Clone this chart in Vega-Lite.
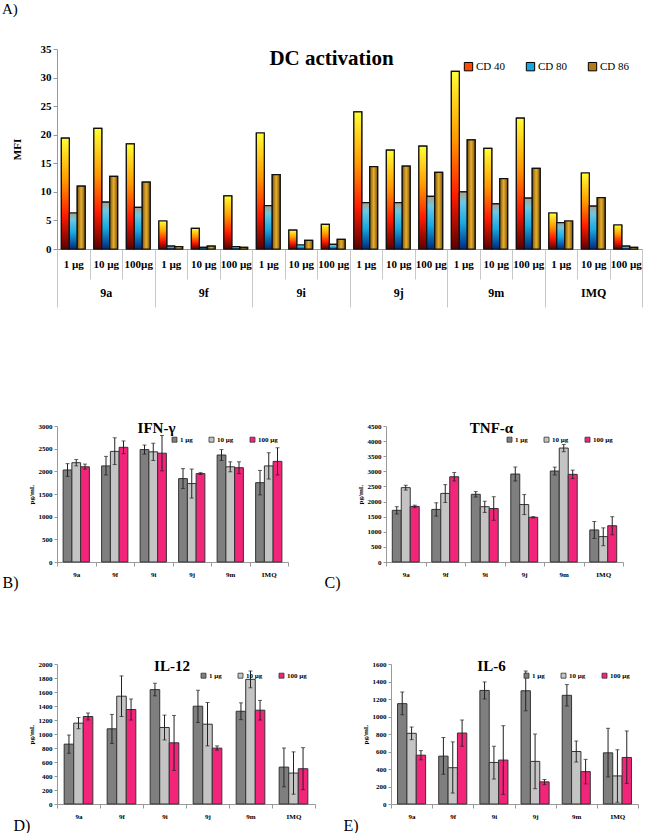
{
  "$schema": "https://vega.github.io/schema/vega-lite/v6.json",
  "padding": {"left": 2, "top": 2, "right": 2, "bottom": 0},
  "title": {"text": "A)", "anchor": "start", "fontSize": 15, "fontWeight": "normal", "offset": 26},
  "datasets": {
    "dc": [
      {"g":"9a","cat":"9a|1 µg","s":"CD 40","v":19.4},{"g":"9a","cat":"9a|1 µg","s":"CD 80","v":6.3},{"g":"9a","cat":"9a|1 µg","s":"CD 86","v":11.0},
      {"g":"9a","cat":"9a|10 µg","s":"CD 40","v":21.1},{"g":"9a","cat":"9a|10 µg","s":"CD 80","v":8.2},{"g":"9a","cat":"9a|10 µg","s":"CD 86","v":12.7},
      {"g":"9a","cat":"9a|100µg","s":"CD 40","v":18.4},{"g":"9a","cat":"9a|100µg","s":"CD 80","v":7.3},{"g":"9a","cat":"9a|100µg","s":"CD 86","v":11.7},
      {"g":"9f","cat":"9f|1 µg","s":"CD 40","v":4.9},{"g":"9f","cat":"9f|1 µg","s":"CD 80","v":0.5},{"g":"9f","cat":"9f|1 µg","s":"CD 86","v":0.4},
      {"g":"9f","cat":"9f|10 µg","s":"CD 40","v":3.6},{"g":"9f","cat":"9f|10 µg","s":"CD 80","v":0.3},{"g":"9f","cat":"9f|10 µg","s":"CD 86","v":0.5},
      {"g":"9f","cat":"9f|100 µg","s":"CD 40","v":9.3},{"g":"9f","cat":"9f|100 µg","s":"CD 80","v":0.4},{"g":"9f","cat":"9f|100 µg","s":"CD 86","v":0.3},
      {"g":"9i","cat":"9i|1 µg","s":"CD 40","v":20.3},{"g":"9i","cat":"9i|1 µg","s":"CD 80","v":7.6},{"g":"9i","cat":"9i|1 µg","s":"CD 86","v":13.0},
      {"g":"9i","cat":"9i|10 µg","s":"CD 40","v":3.3},{"g":"9i","cat":"9i|10 µg","s":"CD 80","v":0.7},{"g":"9i","cat":"9i|10 µg","s":"CD 86","v":1.5},
      {"g":"9i","cat":"9i|100 µg","s":"CD 40","v":4.3},{"g":"9i","cat":"9i|100 µg","s":"CD 80","v":0.8},{"g":"9i","cat":"9i|100 µg","s":"CD 86","v":1.7},
      {"g":"9j","cat":"9j|1 µg","s":"CD 40","v":24.0},{"g":"9j","cat":"9j|1 µg","s":"CD 80","v":8.1},{"g":"9j","cat":"9j|1 µg","s":"CD 86","v":14.4},
      {"g":"9j","cat":"9j|10 µg","s":"CD 40","v":17.3},{"g":"9j","cat":"9j|10 µg","s":"CD 80","v":8.1},{"g":"9j","cat":"9j|10 µg","s":"CD 86","v":14.5},
      {"g":"9j","cat":"9j|100 µg","s":"CD 40","v":18.0},{"g":"9j","cat":"9j|100 µg","s":"CD 80","v":9.2},{"g":"9j","cat":"9j|100 µg","s":"CD 86","v":13.4},
      {"g":"9m","cat":"9m|1 µg","s":"CD 40","v":31.1},{"g":"9m","cat":"9m|1 µg","s":"CD 80","v":10.0},{"g":"9m","cat":"9m|1 µg","s":"CD 86","v":19.1},
      {"g":"9m","cat":"9m|10 µg","s":"CD 40","v":17.6},{"g":"9m","cat":"9m|10 µg","s":"CD 80","v":7.9},{"g":"9m","cat":"9m|10 µg","s":"CD 86","v":12.3},
      {"g":"9m","cat":"9m|100 µg","s":"CD 40","v":22.9},{"g":"9m","cat":"9m|100 µg","s":"CD 80","v":8.9},{"g":"9m","cat":"9m|100 µg","s":"CD 86","v":14.1},
      {"g":"IMQ","cat":"IMQ|1 µg","s":"CD 40","v":6.3},{"g":"IMQ","cat":"IMQ|1 µg","s":"CD 80","v":4.6},{"g":"IMQ","cat":"IMQ|1 µg","s":"CD 86","v":4.9},
      {"g":"IMQ","cat":"IMQ|10 µg","s":"CD 40","v":13.3},{"g":"IMQ","cat":"IMQ|10 µg","s":"CD 80","v":7.5},{"g":"IMQ","cat":"IMQ|10 µg","s":"CD 86","v":9.0},
      {"g":"IMQ","cat":"IMQ|100 µg","s":"CD 40","v":4.2},{"g":"IMQ","cat":"IMQ|100 µg","s":"CD 80","v":0.5},{"g":"IMQ","cat":"IMQ|100 µg","s":"CD 86","v":0.3}
    ],
    "ifn": [
      {"c":"9a","d":"1 µg","m":2030,"lo":1890,"hi":2170},{"c":"9a","d":"10 µg","m":2190,"lo":2120,"hi":2260},{"c":"9a","d":"100 µg","m":2100,"lo":2050,"hi":2160},
      {"c":"9f","d":"1 µg","m":2120,"lo":1920,"hi":2330},{"c":"9f","d":"10 µg","m":2440,"lo":2150,"hi":2740},{"c":"9f","d":"100 µg","m":2530,"lo":2390,"hi":2670},
      {"c":"9i","d":"1 µg","m":2480,"lo":2380,"hi":2580},{"c":"9i","d":"10 µg","m":2430,"lo":2240,"hi":2620},{"c":"9i","d":"100 µg","m":2400,"lo":2010,"hi":2790},
      {"c":"9j","d":"1 µg","m":1840,"lo":1620,"hi":2060},{"c":"9j","d":"10 µg","m":1730,"lo":1410,"hi":2050},{"c":"9j","d":"100 µg","m":1950,"lo":1930,"hi":1970},
      {"c":"9m","d":"1 µg","m":2360,"lo":2240,"hi":2480},{"c":"9m","d":"10 µg","m":2100,"lo":1990,"hi":2210},{"c":"9m","d":"100 µg","m":2080,"lo":1950,"hi":2210},
      {"c":"IMQ","d":"1 µg","m":1750,"lo":1480,"hi":2020},{"c":"IMQ","d":"10 µg","m":2120,"lo":1830,"hi":2410},{"c":"IMQ","d":"100 µg","m":2220,"lo":1920,"hi":2520}
    ],
    "tnf": [
      {"c":"9a","d":"1 µg","m":1710,"lo":1590,"hi":1830},{"c":"9a","d":"10 µg","m":2460,"lo":2380,"hi":2540},{"c":"9a","d":"100 µg","m":1840,"lo":1800,"hi":1880},
      {"c":"9f","d":"1 µg","m":1740,"lo":1520,"hi":1960},{"c":"9f","d":"10 µg","m":2270,"lo":1970,"hi":2560},{"c":"9f","d":"100 µg","m":2820,"lo":2680,"hi":2960},
      {"c":"9i","d":"1 µg","m":2240,"lo":2150,"hi":2330},{"c":"9i","d":"10 µg","m":1830,"lo":1640,"hi":2010},{"c":"9i","d":"100 µg","m":1770,"lo":1380,"hi":2160},
      {"c":"9j","d":"1 µg","m":2910,"lo":2680,"hi":3140},{"c":"9j","d":"10 µg","m":1900,"lo":1570,"hi":2230},{"c":"9j","d":"100 µg","m":1480,"lo":1460,"hi":1500},
      {"c":"9m","d":"1 µg","m":3010,"lo":2880,"hi":3140},{"c":"9m","d":"10 µg","m":3770,"lo":3650,"hi":3890},{"c":"9m","d":"100 µg","m":2900,"lo":2760,"hi":3040},
      {"c":"IMQ","d":"1 µg","m":1060,"lo":780,"hi":1340},{"c":"IMQ","d":"10 µg","m":840,"lo":540,"hi":1130},{"c":"IMQ","d":"100 µg","m":1200,"lo":900,"hi":1500}
    ],
    "il12": [
      {"c":"9a","d":"1 µg","m":855,"lo":725,"hi":985},{"c":"9a","d":"10 µg","m":1155,"lo":1075,"hi":1235},{"c":"9a","d":"100 µg","m":1250,"lo":1200,"hi":1300},
      {"c":"9f","d":"1 µg","m":1074,"lo":865,"hi":1280},{"c":"9f","d":"10 µg","m":1540,"lo":1250,"hi":1830},{"c":"9f","d":"100 µg","m":1350,"lo":1200,"hi":1500},
      {"c":"9i","d":"1 µg","m":1634,"lo":1545,"hi":1725},{"c":"9i","d":"10 µg","m":1093,"lo":915,"hi":1270},{"c":"9i","d":"100 µg","m":874,"lo":480,"hi":1265},
      {"c":"9j","d":"1 µg","m":1397,"lo":1165,"hi":1625},{"c":"9j","d":"10 µg","m":1140,"lo":830,"hi":1450},{"c":"9j","d":"100 µg","m":798,"lo":770,"hi":830},
      {"c":"9m","d":"1 µg","m":1325,"lo":1205,"hi":1445},{"c":"9m","d":"10 µg","m":1781,"lo":1660,"hi":1900},{"c":"9m","d":"100 µg","m":1340,"lo":1200,"hi":1480},
      {"c":"IMQ","d":"1 µg","m":527,"lo":245,"hi":800},{"c":"IMQ","d":"10 µg","m":442,"lo":140,"hi":745},{"c":"IMQ","d":"100 µg","m":504,"lo":205,"hi":805}
    ],
    "il6": [
      {"c":"9a","d":"1 µg","m":1147,"lo":1020,"hi":1280},{"c":"9a","d":"10 µg","m":808,"lo":735,"hi":880},{"c":"9a","d":"100 µg","m":558,"lo":505,"hi":610},
      {"c":"9f","d":"1 µg","m":547,"lo":340,"hi":760},{"c":"9f","d":"10 µg","m":415,"lo":125,"hi":710},{"c":"9f","d":"100 µg","m":811,"lo":660,"hi":960},
      {"c":"9i","d":"1 µg","m":1298,"lo":1200,"hi":1395},{"c":"9i","d":"10 µg","m":475,"lo":285,"hi":660},{"c":"9i","d":"100 µg","m":502,"lo":110,"hi":895},
      {"c":"9j","d":"1 µg","m":1294,"lo":1065,"hi":1520},{"c":"9j","d":"10 µg","m":487,"lo":175,"hi":800},{"c":"9j","d":"100 µg","m":253,"lo":220,"hi":280},
      {"c":"9m","d":"1 µg","m":1242,"lo":1120,"hi":1365},{"c":"9m","d":"10 µg","m":600,"lo":480,"hi":720},{"c":"9m","d":"100 µg","m":370,"lo":230,"hi":510},
      {"c":"IMQ","d":"1 µg","m":585,"lo":310,"hi":865},{"c":"IMQ","d":"10 µg","m":321,"lo":20,"hi":620},{"c":"IMQ","d":"100 µg","m":532,"lo":235,"hi":835}
    ]
  },
  "spacing": 113,
  "vconcat": [
    {
      "width": 585, "height": 200,
      "title": {"text": "DC activation", "fontSize": 21, "fontWeight": "bold", "offset": -26, "dx": -18},
      "data": {"name": "dc"},
      "layer": [
        {
          "encoding": {
            "x": {"field": "cat", "type": "nominal", "sort": null, "scale": {"paddingInner": 0, "paddingOuter": 0},
              "axis": {"orient": "bottom", "title": null, "labelExpr": "split(datum.value,'|')[1]", "labelAngle": 0, "tickBand": "extent", "tickSize": 30, "tickColor": "#c8c8c8", "labelPadding": -21, "labelFontSize": 11, "labelFontWeight": "bold", "domainColor": "#999"}},
            "xOffset": {"field": "s", "type": "nominal", "sort": null, "scale": {"domain": ["CD 40", "CD 80", "CD 86"], "paddingInner": 0, "paddingOuter": 0.55}},
            "y": {"field": "v", "type": "quantitative", "scale": {"domain": [0, 35], "nice": false},
              "axis": {"title": "MFI", "values": [0,5,10,15,20,25,30,35], "labelFontSize": 11, "labelFontWeight": "bold", "titleFontSize": 11, "titleFontWeight": "bold", "tickSize": 4, "domainColor": "#999", "tickColor": "#999", "titlePadding": 18}}
          },
          "layer": [
            {
              "mark": {"type": "bar", "stroke": "#111", "strokeWidth": 1.2},
              "encoding": {
                "color": {"field": "s", "type": "nominal", "sort": null,
                  "scale": {"domain": ["CD 40", "CD 80", "CD 86"], "range": ["#ff4a00", "#1aa4e0", "#b47c18"]},
                  "legend": {"orient": "top-right", "direction": "horizontal", "title": null, "offset": 12, "symbolType": "square", "symbolSize": 70, "symbolStrokeColor": "#000", "symbolStrokeWidth": 1, "symbolOpacity": 1, "labelFontSize": 11, "columnPadding": 18, "labelOffset": 2}}
              }
            },
            {
              "transform": [{"filter": "datum.s === 'CD 40'"}],
              "mark": {"type": "bar", "stroke": "#111", "strokeWidth": 1.2, "color": {"gradient": "linear", "x1": 0, "y1": 1, "x2": 0, "y2": 0, "stops": [{"offset": 0, "color": "#5a0000"}, {"offset": 0.3, "color": "#ff1a00"}, {"offset": 0.62, "color": "#ff9900"}, {"offset": 1, "color": "#ffff33"}]}}
            },
            {
              "transform": [{"filter": "datum.s === 'CD 80'"}],
              "mark": {"type": "bar", "stroke": "#111", "strokeWidth": 1.2, "color": {"gradient": "linear", "x1": 0, "y1": 1, "x2": 0, "y2": 0, "stops": [{"offset": 0, "color": "#002a80"}, {"offset": 0.45, "color": "#19a8e0"}, {"offset": 0.82, "color": "#6cc8e4"}, {"offset": 1, "color": "#b0a088"}]}}
            },
            {
              "transform": [{"filter": "datum.s === 'CD 86'"}],
              "mark": {"type": "bar", "stroke": "#111", "strokeWidth": 1.2, "color": {"gradient": "linear", "x1": 0, "y1": 0, "x2": 1, "y2": 0, "stops": [{"offset": 0, "color": "#7a5208"}, {"offset": 0.5, "color": "#e8b030"}, {"offset": 1, "color": "#7a5208"}]}}
            }
          ]
        },
        {
          "mark": {"type": "tick", "opacity": 0},
          "encoding": {
            "x": {"field": "g", "type": "nominal", "sort": null, "scale": {"paddingInner": 0, "paddingOuter": 0},
              "axis": {"orient": "bottom", "title": null, "labelAngle": 0, "tickBand": "extent", "tickSize": 58, "tickColor": "#c8c8c8", "labelPadding": -20, "labelFontSize": 12, "labelFontWeight": "bold", "domain": false}}
          }
        }
      ],
      "resolve": {"scale": {"x": "independent"}, "axis": {"x": "independent"}}
    },
    {
      "spacing": 69,
      "vconcat": [
        {
          "spacing": 35,
          "hconcat": [
            {
              "width": 231, "height": 136,
              "title": {"text": "IFN-γ", "fontSize": 15, "fontWeight": "bold", "offset": -14, "dx": -16},
              "data": {"name": "ifn"},
              "encoding": {
                "x": {"field": "c", "type": "nominal", "sort": null, "scale": {"domain": ["9a","9f","9i","9j","9m","IMQ"], "paddingInner": 0, "paddingOuter": 0},
                  "axis": {"title": "B)", "labelAngle": 0, "labelFontSize": 7, "labelFontWeight": "bold", "tickBand": "extent", "tickSize": 4, "labelPadding": 4, "domainColor": "#999", "tickColor": "#999", "titleX": -55, "titleY": 20, "titleAlign": "left", "titleBaseline": "middle", "titleFontSize": 16, "titleFontWeight": "normal"}},
                "xOffset": {"field": "d", "type": "nominal", "sort": null, "scale": {"domain": ["1 µg", "10 µg", "100 µg"], "paddingInner": 0, "paddingOuter": 0.7}}
              },
              "layer": [
                {"mark": {"type": "bar", "stroke": "#333", "strokeWidth": 1},
                  "encoding": {
                    "y": {"field": "m", "type": "quantitative", "scale": {"domain": [0, 3000], "nice": false},
                      "axis": {"title": "pg/mL", "values": [0,500,1000,1500,2000,2500,3000], "format": "d", "labelFontSize": 7, "labelFontWeight": "bold", "titleFontSize": 7, "titleFontWeight": "bold", "tickSize": 3, "labelPadding": 2, "titlePadding": 4, "domainColor": "#999", "tickColor": "#999"}},
                    "color": {"field": "d", "type": "nominal", "sort": null, "scale": {"domain": ["1 µg", "10 µg", "100 µg"], "range": ["#7f7f7f", "#c4c4c4", "#f2257a"]},
                      "legend": {"orient": "top-right", "direction": "horizontal", "title": null, "offset": 10, "symbolType": "square", "symbolSize": 25, "symbolStrokeColor": "#333", "symbolStrokeWidth": 0.8, "labelFontSize": 7, "labelFontWeight": "bold", "columnPadding": 14, "labelOffset": 2}}
                  }},
                {"mark": {"type": "rule", "color": "#222"}, "encoding": {"y": {"field": "lo", "type": "quantitative", "axis": {"title": "pg/mL", "values": [0,500,1000,1500,2000,2500,3000], "format": "d", "labelFontSize": 7, "labelFontWeight": "bold", "titleFontSize": 7, "titleFontWeight": "bold", "tickSize": 3, "labelPadding": 2, "titlePadding": 4, "domainColor": "#999", "tickColor": "#999"}}, "y2": {"field": "hi"}}},
                {"mark": {"type": "tick", "color": "#222", "size": 4, "thickness": 1}, "encoding": {"y": {"field": "lo", "type": "quantitative", "axis": {"title": "pg/mL", "values": [0,500,1000,1500,2000,2500,3000], "format": "d", "labelFontSize": 7, "labelFontWeight": "bold", "titleFontSize": 7, "titleFontWeight": "bold", "tickSize": 3, "labelPadding": 2, "titlePadding": 4, "domainColor": "#999", "tickColor": "#999"}}}},
                {"mark": {"type": "tick", "color": "#222", "size": 4, "thickness": 1}, "encoding": {"y": {"field": "hi", "type": "quantitative", "axis": {"title": "pg/mL", "values": [0,500,1000,1500,2000,2500,3000], "format": "d", "labelFontSize": 7, "labelFontWeight": "bold", "titleFontSize": 7, "titleFontWeight": "bold", "tickSize": 3, "labelPadding": 2, "titlePadding": 4, "domainColor": "#999", "tickColor": "#999"}}}}
              ]
            },
            {
              "width": 237, "height": 136,
              "title": {"text": "TNF-α", "fontSize": 15, "fontWeight": "bold", "offset": -14, "dx": -13},
              "data": {"name": "tnf"},
              "encoding": {
                "x": {"field": "c", "type": "nominal", "sort": null, "scale": {"domain": ["9a","9f","9i","9j","9m","IMQ"], "paddingInner": 0, "paddingOuter": 0},
                  "axis": {"title": "C)", "labelAngle": 0, "labelFontSize": 7, "labelFontWeight": "bold", "tickBand": "extent", "tickSize": 4, "labelPadding": 4, "domainColor": "#999", "tickColor": "#999", "titleX": -62, "titleY": 20, "titleAlign": "left", "titleBaseline": "middle", "titleFontSize": 16, "titleFontWeight": "normal"}},
                "xOffset": {"field": "d", "type": "nominal", "sort": null, "scale": {"domain": ["1 µg", "10 µg", "100 µg"], "paddingInner": 0, "paddingOuter": 0.7}}
              },
              "layer": [
                {"mark": {"type": "bar", "stroke": "#333", "strokeWidth": 1},
                  "encoding": {
                    "y": {"field": "m", "type": "quantitative", "scale": {"domain": [0, 4500], "nice": false},
                      "axis": {"title": "pg/mL", "values": [0,500,1000,1500,2000,2500,3000,3500,4000,4500], "format": "d", "labelFontSize": 7, "labelFontWeight": "bold", "titleFontSize": 7, "titleFontWeight": "bold", "tickSize": 3, "labelPadding": 2, "titlePadding": 4, "domainColor": "#999", "tickColor": "#999"}},
                    "color": {"field": "d", "type": "nominal", "sort": null, "scale": {"domain": ["1 µg", "10 µg", "100 µg"], "range": ["#7f7f7f", "#c4c4c4", "#f2257a"]},
                      "legend": {"orient": "top-right", "direction": "horizontal", "title": null, "offset": 10, "symbolType": "square", "symbolSize": 25, "symbolStrokeColor": "#333", "symbolStrokeWidth": 0.8, "labelFontSize": 7, "labelFontWeight": "bold", "columnPadding": 14, "labelOffset": 2}}
                  }},
                {"mark": {"type": "rule", "color": "#222"}, "encoding": {"y": {"field": "lo", "type": "quantitative", "axis": {"title": "pg/mL", "values": [0,500,1000,1500,2000,2500,3000,3500,4000,4500], "format": "d", "labelFontSize": 7, "labelFontWeight": "bold", "titleFontSize": 7, "titleFontWeight": "bold", "tickSize": 3, "labelPadding": 2, "titlePadding": 4, "domainColor": "#999", "tickColor": "#999"}}, "y2": {"field": "hi"}}},
                {"mark": {"type": "tick", "color": "#222", "size": 4, "thickness": 1}, "encoding": {"y": {"field": "lo", "type": "quantitative", "axis": {"title": "pg/mL", "values": [0,500,1000,1500,2000,2500,3000,3500,4000,4500], "format": "d", "labelFontSize": 7, "labelFontWeight": "bold", "titleFontSize": 7, "titleFontWeight": "bold", "tickSize": 3, "labelPadding": 2, "titlePadding": 4, "domainColor": "#999", "tickColor": "#999"}}}},
                {"mark": {"type": "tick", "color": "#222", "size": 4, "thickness": 1}, "encoding": {"y": {"field": "hi", "type": "quantitative", "axis": {"title": "pg/mL", "values": [0,500,1000,1500,2000,2500,3000,3500,4000,4500], "format": "d", "labelFontSize": 7, "labelFontWeight": "bold", "titleFontSize": 7, "titleFontWeight": "bold", "tickSize": 3, "labelPadding": 2, "titlePadding": 4, "domainColor": "#999", "tickColor": "#999"}}}}
              ]
            }
          ],
          "resolve": {"scale": {"x": "independent", "xOffset": "independent", "y": "independent", "color": "independent"}}
        },
        {
          "spacing": 27,
          "hconcat": [
            {
              "width": 258, "height": 140,
              "title": {"text": "IL-12", "fontSize": 15, "fontWeight": "bold", "offset": -14, "dx": -14},
              "data": {"name": "il12"},
              "encoding": {
                "x": {"field": "c", "type": "nominal", "sort": null, "scale": {"domain": ["9a","9f","9i","9j","9m","IMQ"], "paddingInner": 0, "paddingOuter": 0},
                  "axis": {"title": "D)", "labelAngle": 0, "labelFontSize": 7, "labelFontWeight": "bold", "tickBand": "extent", "tickSize": 4, "labelPadding": 4, "domainColor": "#999", "tickColor": "#999", "titleX": -44, "titleY": 21, "titleAlign": "left", "titleBaseline": "middle", "titleFontSize": 16, "titleFontWeight": "normal"}},
                "xOffset": {"field": "d", "type": "nominal", "sort": null, "scale": {"domain": ["1 µg", "10 µg", "100 µg"], "paddingInner": 0, "paddingOuter": 0.75}}
              },
              "layer": [
                {"mark": {"type": "bar", "stroke": "#333", "strokeWidth": 1},
                  "encoding": {
                    "y": {"field": "m", "type": "quantitative", "scale": {"domain": [0, 2000], "nice": false},
                      "axis": {"title": "pg/mL", "values": [0,200,400,600,800,1000,1200,1400,1600,1800,2000], "format": "d", "labelFontSize": 7, "labelFontWeight": "bold", "titleFontSize": 7, "titleFontWeight": "bold", "tickSize": 3, "labelPadding": 2, "titlePadding": 4, "domainColor": "#999", "tickColor": "#999"}},
                    "color": {"field": "d", "type": "nominal", "sort": null, "scale": {"domain": ["1 µg", "10 µg", "100 µg"], "range": ["#7f7f7f", "#c4c4c4", "#f2257a"]},
                      "legend": {"orient": "top-right", "direction": "horizontal", "title": null, "offset": 8, "symbolType": "square", "symbolSize": 25, "symbolStrokeColor": "#333", "symbolStrokeWidth": 0.8, "labelFontSize": 7, "labelFontWeight": "bold", "columnPadding": 14, "labelOffset": 2}}
                  }},
                {"mark": {"type": "rule", "color": "#222"}, "encoding": {"y": {"field": "lo", "type": "quantitative", "axis": {"title": "pg/mL", "values": [0,200,400,600,800,1000,1200,1400,1600,1800,2000], "format": "d", "labelFontSize": 7, "labelFontWeight": "bold", "titleFontSize": 7, "titleFontWeight": "bold", "tickSize": 3, "labelPadding": 2, "titlePadding": 4, "domainColor": "#999", "tickColor": "#999"}}, "y2": {"field": "hi"}}},
                {"mark": {"type": "tick", "color": "#222", "size": 4, "thickness": 1}, "encoding": {"y": {"field": "lo", "type": "quantitative", "axis": {"title": "pg/mL", "values": [0,200,400,600,800,1000,1200,1400,1600,1800,2000], "format": "d", "labelFontSize": 7, "labelFontWeight": "bold", "titleFontSize": 7, "titleFontWeight": "bold", "tickSize": 3, "labelPadding": 2, "titlePadding": 4, "domainColor": "#999", "tickColor": "#999"}}}},
                {"mark": {"type": "tick", "color": "#222", "size": 4, "thickness": 1}, "encoding": {"y": {"field": "hi", "type": "quantitative", "axis": {"title": "pg/mL", "values": [0,200,400,600,800,1000,1200,1400,1600,1800,2000], "format": "d", "labelFontSize": 7, "labelFontWeight": "bold", "titleFontSize": 7, "titleFontWeight": "bold", "tickSize": 3, "labelPadding": 2, "titlePadding": 4, "domainColor": "#999", "tickColor": "#999"}}}}
              ]
            },
            {
              "width": 247, "height": 140,
              "title": {"text": "IL-6", "fontSize": 15, "fontWeight": "bold", "offset": -14, "dx": -23},
              "data": {"name": "il6"},
              "encoding": {
                "x": {"field": "c", "type": "nominal", "sort": null, "scale": {"domain": ["9a","9f","9i","9j","9m","IMQ"], "paddingInner": 0, "paddingOuter": 0},
                  "axis": {"title": "E)", "labelAngle": 0, "labelFontSize": 7, "labelFontWeight": "bold", "tickBand": "extent", "tickSize": 4, "labelPadding": 4, "domainColor": "#999", "tickColor": "#999", "titleX": -48, "titleY": 21, "titleAlign": "left", "titleBaseline": "middle", "titleFontSize": 16, "titleFontWeight": "normal"}},
                "xOffset": {"field": "d", "type": "nominal", "sort": null, "scale": {"domain": ["1 µg", "10 µg", "100 µg"], "paddingInner": 0, "paddingOuter": 0.7}}
              },
              "layer": [
                {"mark": {"type": "bar", "stroke": "#333", "strokeWidth": 1},
                  "encoding": {
                    "y": {"field": "m", "type": "quantitative", "scale": {"domain": [0, 1600], "nice": false},
                      "axis": {"title": "pg/mL", "values": [0,200,400,600,800,1000,1200,1400,1600], "format": "d", "labelFontSize": 7, "labelFontWeight": "bold", "titleFontSize": 7, "titleFontWeight": "bold", "tickSize": 3, "labelPadding": 2, "titlePadding": 4, "domainColor": "#999", "tickColor": "#999"}},
                    "color": {"field": "d", "type": "nominal", "sort": null, "scale": {"domain": ["1 µg", "10 µg", "100 µg"], "range": ["#7f7f7f", "#c4c4c4", "#f2257a"]},
                      "legend": {"orient": "top-right", "direction": "horizontal", "title": null, "offset": 8, "symbolType": "square", "symbolSize": 25, "symbolStrokeColor": "#333", "symbolStrokeWidth": 0.8, "labelFontSize": 7, "labelFontWeight": "bold", "columnPadding": 14, "labelOffset": 2}}
                  }},
                {"mark": {"type": "rule", "color": "#222"}, "encoding": {"y": {"field": "lo", "type": "quantitative", "axis": {"title": "pg/mL", "values": [0,200,400,600,800,1000,1200,1400,1600], "format": "d", "labelFontSize": 7, "labelFontWeight": "bold", "titleFontSize": 7, "titleFontWeight": "bold", "tickSize": 3, "labelPadding": 2, "titlePadding": 4, "domainColor": "#999", "tickColor": "#999"}}, "y2": {"field": "hi"}}},
                {"mark": {"type": "tick", "color": "#222", "size": 4, "thickness": 1}, "encoding": {"y": {"field": "lo", "type": "quantitative", "axis": {"title": "pg/mL", "values": [0,200,400,600,800,1000,1200,1400,1600], "format": "d", "labelFontSize": 7, "labelFontWeight": "bold", "titleFontSize": 7, "titleFontWeight": "bold", "tickSize": 3, "labelPadding": 2, "titlePadding": 4, "domainColor": "#999", "tickColor": "#999"}}}},
                {"mark": {"type": "tick", "color": "#222", "size": 4, "thickness": 1}, "encoding": {"y": {"field": "hi", "type": "quantitative", "axis": {"title": "pg/mL", "values": [0,200,400,600,800,1000,1200,1400,1600], "format": "d", "labelFontSize": 7, "labelFontWeight": "bold", "titleFontSize": 7, "titleFontWeight": "bold", "tickSize": 3, "labelPadding": 2, "titlePadding": 4, "domainColor": "#999", "tickColor": "#999"}}}}
              ]
            }
          ],
          "resolve": {"scale": {"x": "independent", "xOffset": "independent", "y": "independent", "color": "independent"}}
        }
      ],
      "resolve": {"scale": {"x": "independent", "xOffset": "independent", "y": "independent", "color": "independent"}}
    }
  ],
  "resolve": {"scale": {"x": "independent", "xOffset": "independent", "y": "independent", "color": "independent"}},
  "config": {
    "view": {"stroke": null},
    "font": "Liberation Serif",
    "axis": {"labelFont": "Liberation Serif", "titleFont": "Liberation Serif", "grid": false, "labelColor": "#000", "titleColor": "#000"},
    "legend": {"labelFont": "Liberation Serif", "labelColor": "#000"},
    "title": {"font": "Liberation Serif", "color": "#000"}
  }
}
